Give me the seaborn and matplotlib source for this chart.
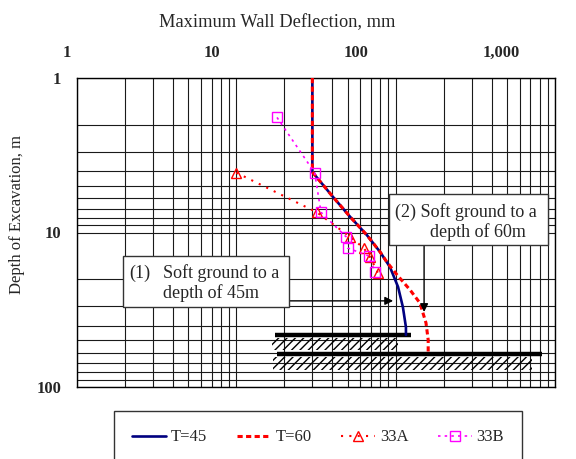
import numpy as np
import pandas as pd
import matplotlib.pyplot as plt
import seaborn as sns
from matplotlib import ticker, transforms
from matplotlib.patches import Rectangle

sns.set_style("white")
plt.rcParams['font.family'] = ['Liberation Serif', 'DejaVu Serif']
plt.rcParams['hatch.linewidth'] = 1.0

# predicted curves (mm, m)
t45_x = [30, 30, 40.5, 51.7, 66, 80, 92, 103.5, 111, 116, 116]
t45_y = [1, 4.06, 5.9, 7.9, 10.4, 13.4, 16.7, 22.5, 30.4, 41, 46]
t60_x = [30, 30, 40.5, 51.7, 66, 80, 88, 102, 123, 142, 155, 160, 160]
t60_y = [1, 4.06, 5.9, 7.9, 10.4, 13.4, 15.5, 18.8, 23.5, 28.6, 38.5, 49.6, 60]

# measured
a33_x = [10, 32, 52, 63, 69, 77.5]
a33_y = [4.1, 7.4, 10.7, 12.6, 14.4, 18.3]
b33_x = [18, 31, 34, 49, 50, 68, 74]
b33_y = [1.8, 4.1, 7.4, 10.7, 12.6, 14.2, 18.0]

x_ticks = [1, 10, 100, 1000]
x_tick_labels = ["1", "10", "100", "1,000"]
y_ticks = [1, 10, 100]
y_tick_labels = ["1", "10", "100"]

fig = plt.figure(figsize=(5.76, 4.59), dpi=100)
ax = fig.add_axes([77/576, 1-387/459, 478/576, 309/459])
ax.set_xscale('log')
ax.set_yscale('log')

t45 = pd.DataFrame({'x': t45_x, 'y': t45_y})
t60 = pd.DataFrame({'x': t60_x, 'y': t60_y})
a33 = pd.DataFrame({'x': a33_x, 'y': a33_y})
b33 = pd.DataFrame({'x': b33_x, 'y': b33_y})

sns.lineplot(data=t45, x='x', y='y', sort=False, estimator=None, ax=ax,
             color='#000080', lw=1.9, label='T=45', zorder=4)
sns.lineplot(data=t60, x='x', y='y', sort=False, estimator=None, ax=ax,
             color='#ff0000', lw=2.2, ls=(0, (1.7, 1.1)), label='T=60', zorder=5)
sns.lineplot(data=a33, x='x', y='y', sort=False, estimator=None, ax=ax,
             color='#ff0000', lw=1.5, ls=(0, (1, 3)), marker='^', ms=7,
             mfc='none', mec='#ff0000', mew=1, label='33A', zorder=6)
sns.lineplot(data=b33, x='x', y='y', sort=False, estimator=None, ax=ax,
             color='#ff00ff', lw=1.2, ls=(0, (1.5, 2.5)), marker='s', ms=6.5,
             mfc='none', mec='#ff00ff', mew=1, label='33B', zorder=6)

ax.set_xlim(1, 1000)
ax.set_ylim(100, 1)
ax.set_xlabel('')
ax.set_ylabel('')

ax.set_xticks(x_ticks, labels=[''] * len(x_ticks))
ax.set_yticks(y_ticks, labels=y_tick_labels, fontsize=12, fontweight='bold')
ax.yaxis.set_minor_formatter(ticker.NullFormatter())
ax.xaxis.set_minor_formatter(ticker.NullFormatter())
ax.tick_params(which='both', length=0)
ax.tick_params(axis='y', pad=11.5)
ax.grid(True, which='both', color='#1a1a1a', lw=0.8)
ax.set_axisbelow(True)
for s in ax.spines.values():
    s.set_color('black')
    s.set_linewidth(1)

# top tick labels (shifted like the original)
shifts = [-10, -24, -40, -54]
for xv, lab, dx in zip(x_ticks, x_tick_labels, shifts):
    tr = ax.get_xaxis_transform() + transforms.ScaledTranslation(dx/100, 25/100, fig.dpi_scale_trans)
    ax.text(xv, 1, lab, transform=tr, ha='center', va='center',
            fontsize=12, fontweight='bold', clip_on=False)

fig.text(277/576, 1-23/459, "Maximum Wall Deflection, mm", ha='center', va='center', fontsize=13.2)
fig.text(17/576, 1-214/459, "Depth of Excavation, m", ha='center', va='center',
         rotation=90, fontsize=12)

# ground lines with hatching
ax.plot([17.5, 125], [46, 46], color='black', lw=3.2, solid_capstyle='butt', zorder=3)
ax.plot([18, 830], [61, 61], color='black', lw=3.2, solid_capstyle='butt', zorder=3)
ax.add_patch(Rectangle((16.8, 48.2), 103.5-16.8, 57.6-48.2, fill=False, hatch='////',
                       lw=0, edgecolor='black', zorder=3))
ax.add_patch(Rectangle((17, 64), 718-17, 77.6-64, fill=False, hatch='////',
                       lw=0, edgecolor='black', zorder=3))

# annotation boxes
ax.add_patch(Rectangle((0.096, 0.259), 0.3475, 0.165, transform=ax.transAxes,
                       facecolor='white', edgecolor='#333333', lw=1, zorder=7))
ax.text(0.109, 0.369, "(1)", transform=ax.transAxes, va='center', fontsize=13, zorder=8)
ax.text(0.180, 0.369, "Soft ground to a", transform=ax.transAxes, va='center', fontsize=13, zorder=8)
ax.text(0.180, 0.304, "depth of 45m", transform=ax.transAxes, va='center', fontsize=13, zorder=8)

ax.add_patch(Rectangle((0.653, 0.4595), 0.3326, 0.165, transform=ax.transAxes,
                       facecolor='white', edgecolor='#333333', lw=1, zorder=7))
ax.text(0.665, 0.566, "(2) Soft ground to a", transform=ax.transAxes, va='center', fontsize=13, zorder=8)
ax.text(0.7385, 0.5016, "depth of 60m", transform=ax.transAxes, va='center', fontsize=13, zorder=8)

arrow = dict(arrowstyle='-|>', color='black', lw=1, mutation_scale=12, shrinkA=0, shrinkB=0)
ax.annotate('', xy=(96.4, 27.7), xytext=(21.4, 27.7), arrowprops=arrow, zorder=6)
ax.annotate('', xy=(150.8, 32.7), xytext=(150.8, 12.05), arrowprops=arrow, zorder=6)

handles, labels = ax.get_legend_handles_labels()
ax.get_legend().remove()
leg = fig.legend(handles, labels, loc='upper left', bbox_to_anchor=(114/576, 1-411/459),
                 ncol=4, frameon=True, fancybox=False, edgecolor='black', fontsize=12,
                 handlelength=2.0, handletextpad=0.3, columnspacing=1.8,
                 borderpad=1.1, borderaxespad=0)
leg.get_frame().set_linewidth(1)

fig.savefig("out.png", dpi=100)
